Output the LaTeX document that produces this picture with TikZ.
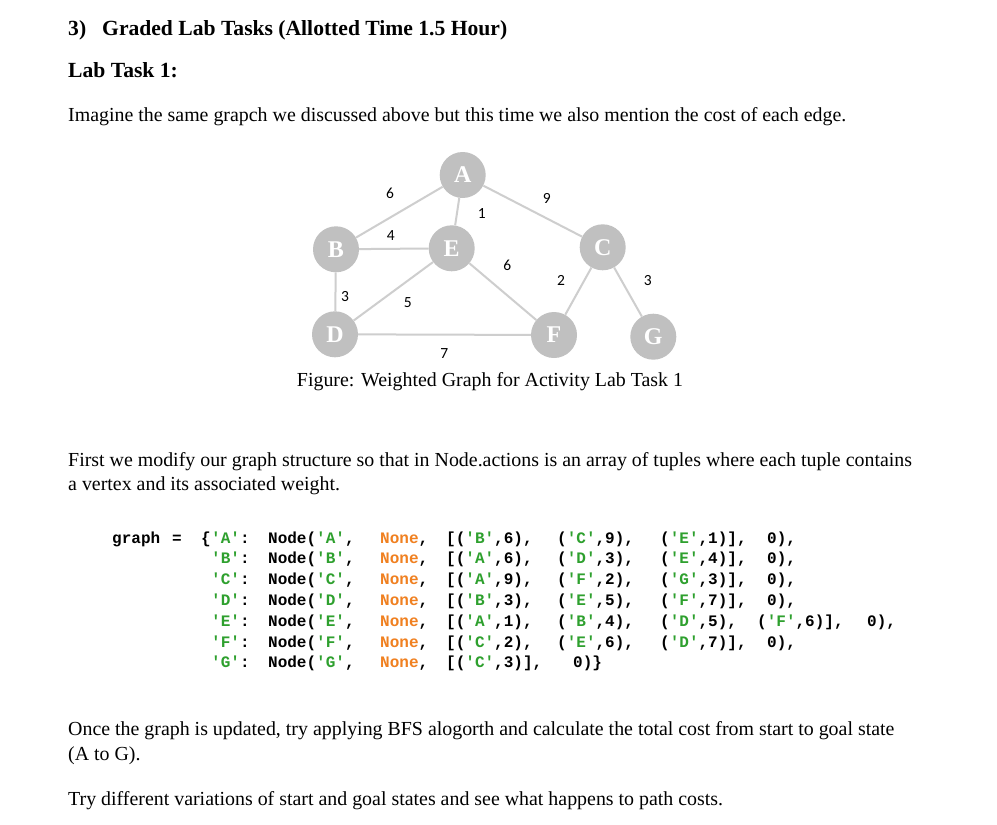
\documentclass[tikz,border=0pt]{standalone}
\usepackage{fontspec}
\setmainfont{Liberation Serif}
\newfontfamily\codefont{Liberation Mono}
\newfontfamily\costfont{Carlito}
\definecolor{vertex color}{RGB}{192,192,192}
\definecolor{edge color}{RGB}{206,206,206}
\definecolor{string green}{RGB}{46,160,46}
\definecolor{none orange}{RGB}{240,128,32}
\newcommand{\sq}{\char"0027\relax}
\newcommand{\strkey}[1]{\textcolor{string green}{\sq#1\sq}}
\newcommand{\nonekw}{\textcolor{none orange}{None}}
\newcommand{\codecol}[2]{\makebox[#1pt][l]{#2}}
\tikzset{
    x={1pt},
    y={-1pt},
    graph vertex/.style={
        circle, fill=vertex color,
        minimum size={46},
        inner sep=0pt,
        text=white,
        font={\bfseries\fontsize{24}{24}\selectfont},
    },
    graph edge/.style={
        draw=edge color,
        line width={2pt},
    },
    edge cost/.style={
        inner sep=0pt,
        font={\costfont\fontsize{15.5}{15.5}\selectfont},
    },
    body text/.style={
        anchor=base west,
        inner sep=0pt,
        font={\fontsize{19.9}{24}\selectfont},
    },
    heading/.style={
        body text,
        font={\bfseries\fontsize{21.6}{26}\selectfont},
    },
    code line/.style={
        anchor=base west,
        inner sep=0pt,
        font={\codefont\bfseries\fontsize{16}{20}\selectfont},
    },
}

\begin{document}
\begin{tikzpicture}
% background
\useasboundingbox[fill=white] (0,0) rectangle (997,825);
% headings
\node[heading] (task num) at (68,35) {3)};
\node[heading] (task title) at (102,35) {Graded Lab Tasks (Allotted Time 1.5 Hour)};
\node[heading] (lab task) at (68,77) {Lab Task 1:};
\node[body text] (intro) at (68,121) {Imagine the same grapch we discussed above but this time we also mention the cost of each edge.};
% vertices
\node[graph vertex] (A) at (462.7,175.0) {A};
\node[graph vertex] (B) at (336.0,249.3) {B};
\node[graph vertex] (E) at (451.7,248.3) {E};
\node[graph vertex] (C) at (602.7,247.3) {C};
\node[graph vertex] (D) at (335.0,334.3) {D};
\node[graph vertex] (F) at (554.0,335.0) {F};
\node[graph vertex] (G) at (653.3,336.7) {G};
% edges
\draw[graph edge] (A) -- (B);
\draw[graph edge] (A) -- (E);
\draw[graph edge] (A) -- (C);
\draw[graph edge] (B) -- (E);
\draw[graph edge] (B) -- (D);
\draw[graph edge] (E) -- (D);
\draw[graph edge] (E) -- (F);
\draw[graph edge] (C) -- (F);
\draw[graph edge] (C) -- (G);
\draw[graph edge] (D) -- (F);
% costs
\node[edge cost] (cost ab) at (390.0,193.3) {6};
\node[edge cost] (cost ac) at (546.7,198.3) {9};
\node[edge cost] (cost ae) at (481.7,214.0) {1};
\node[edge cost] (cost be) at (390.7,236.0) {4};
\node[edge cost] (cost ef) at (507.3,265.7) {6};
\node[edge cost] (cost cf) at (561.0,280.0) {2};
\node[edge cost] (cost cg) at (647.7,280.7) {3};
\node[edge cost] (cost bd) at (345.0,296.7) {3};
\node[edge cost] (cost de) at (407.7,302.7) {5};
\node[edge cost] (cost df) at (444.3,353.3) {7};
\node[body text, anchor=base] (caption) at (490,386) {Figure: Weighted Graph for Activity Lab Task 1};
% text
\node[body text] (modify 1) at (68,466) {First we modify our graph structure so that in Node.actions is an array of tuples where each tuple contains};
\node[body text] (modify 2) at (68,490) {a vertex and its associated weight.};
% code
\node[code line] (code head) at (112,543) {\codecol{60}{graph}\codecol{29}{=}\{};
\node[code line] (code a) at (211,543.0) {\codecol{57}{\strkey{A}:}\codecol{112}{Node(\strkey{A},}\codecol{66}{\nonekw,}\codecol{111}{[(\strkey{B},6),}\codecol{103}{(\strkey{C},9),}\codecol{107}{(\strkey{E},1)],}0),};
\node[code line] (code b) at (211,563.8) {\codecol{57}{\strkey{B}:}\codecol{112}{Node(\strkey{B},}\codecol{66}{\nonekw,}\codecol{111}{[(\strkey{A},6),}\codecol{103}{(\strkey{D},3),}\codecol{107}{(\strkey{E},4)],}0),};
\node[code line] (code c) at (211,584.6) {\codecol{57}{\strkey{C}:}\codecol{112}{Node(\strkey{C},}\codecol{66}{\nonekw,}\codecol{111}{[(\strkey{A},9),}\codecol{103}{(\strkey{F},2),}\codecol{107}{(\strkey{G},3)],}0),};
\node[code line] (code d) at (211,605.4) {\codecol{57}{\strkey{D}:}\codecol{112}{Node(\strkey{D},}\codecol{66}{\nonekw,}\codecol{111}{[(\strkey{B},3),}\codecol{103}{(\strkey{E},5),}\codecol{107}{(\strkey{F},7)],}0),};
\node[code line] (code e) at (211,626.2) {\codecol{57}{\strkey{E}:}\codecol{112}{Node(\strkey{E},}\codecol{66}{\nonekw,}\codecol{111}{[(\strkey{A},1),}\codecol{103}{(\strkey{B},4),}\codecol{97}{(\strkey{D},5),}\codecol{110}{(\strkey{F},6)],}0),};
\node[code line] (code f) at (211,647.0) {\codecol{57}{\strkey{F}:}\codecol{112}{Node(\strkey{F},}\codecol{66}{\nonekw,}\codecol{111}{[(\strkey{C},2),}\codecol{103}{(\strkey{E},6),}\codecol{107}{(\strkey{D},7)],}0),};
\node[code line] (code g) at (211,667.8) {\codecol{57}{\strkey{G}:}\codecol{112}{Node(\strkey{G},}\codecol{66}{\nonekw,}\codecol{127}{[(\strkey{C},3)],}0)\}};
% closing text
\node[body text] (once 1) at (68,735) {Once the graph is updated, try applying BFS alogorth and calculate the total cost from start to goal state};
\node[body text] (once 2) at (68,760) {(A to G).};
\node[body text] (try) at (68,805) {Try different variations of start and goal states and see what happens to path costs.};
\end{tikzpicture}
\end{document}
